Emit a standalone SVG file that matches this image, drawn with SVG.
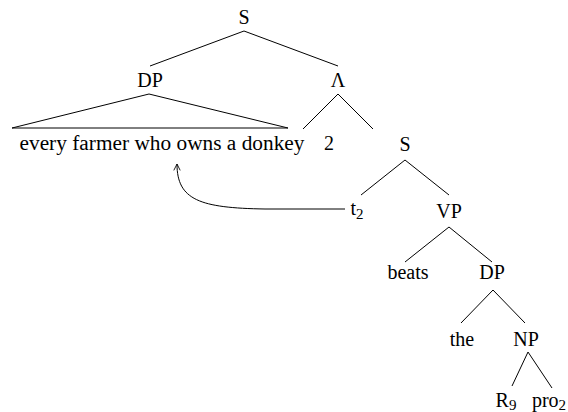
<svg xmlns="http://www.w3.org/2000/svg" width="568" height="412" viewBox="0 0 568 412">
<style>
text{font-family:"Liberation Serif","DejaVu Serif",serif;font-size:20px;fill:#000;text-anchor:middle}
.sub{font-size:15px}
.e line,.e path{stroke:#000;stroke-width:1;fill:none}
</style>
<defs>
<marker id="ah" viewBox="0 0 10 10" refX="9" refY="5" markerWidth="8" markerHeight="8" orient="auto" markerUnits="userSpaceOnUse">
<path d="M1,1 L9,5 L1,9" fill="none" stroke="#000" stroke-width="1.1"/>
</marker>
</defs>
<rect width="568" height="412" fill="#fff"/>
<g id="connectors" class="e">
<line x1="244" y1="31" x2="150" y2="66"/>
<line x1="244" y1="31" x2="338" y2="66"/>
<path d="M149,94 L288,128 L12,128 Z"/>
<line x1="338" y1="94" x2="303" y2="129"/>
<line x1="338" y1="94" x2="373" y2="129"/>
<line x1="405" y1="160" x2="361" y2="195"/>
<line x1="405" y1="160" x2="449" y2="195"/>
<line x1="449" y1="227" x2="405" y2="262"/>
<line x1="449" y1="227" x2="492" y2="262"/>
<line x1="493" y1="290" x2="461" y2="323"/>
<line x1="493" y1="290" x2="525" y2="323"/>
<line x1="528" y1="352" x2="512" y2="386"/>
<line x1="528" y1="352" x2="552" y2="388"/>
<path d="M345,209 L265,209 C200,208 177,200 177,164" marker-end="url(#ah)"/>
</g>
<g id="n-S"><text x="244" y="24">S</text></g>
<g id="n-DP"><text x="150" y="87">DP</text></g>
<g id="n-Lambda"><text x="338" y="87">Λ</text></g>
<g id="n-every"><text x="162" y="150" textLength="285" lengthAdjust="spacingAndGlyphs">every farmer who owns a donkey</text></g>
<g id="n-2"><text x="329" y="150" font-size="15">2</text></g>
<g id="n-S2"><text x="405" y="151">S</text></g>
<g id="n-t2"><text x="357" y="215">t<tspan class="sub" dy="4">2</tspan></text></g>
<g id="n-VP"><text x="449" y="218">VP</text></g>
<g id="n-beats"><text x="408" y="279">beats</text></g>
<g id="n-DP2"><text x="492" y="279">DP</text></g>
<g id="n-the"><text x="462" y="346">the</text></g>
<g id="n-NP"><text x="526" y="346">NP</text></g>
<g id="n-R9"><text x="506" y="407">R<tspan class="sub" dy="3">9</tspan></text></g>
<g id="n-pro2"><text x="549" y="407">pro<tspan class="sub" dy="3">2</tspan></text></g>
</svg>
